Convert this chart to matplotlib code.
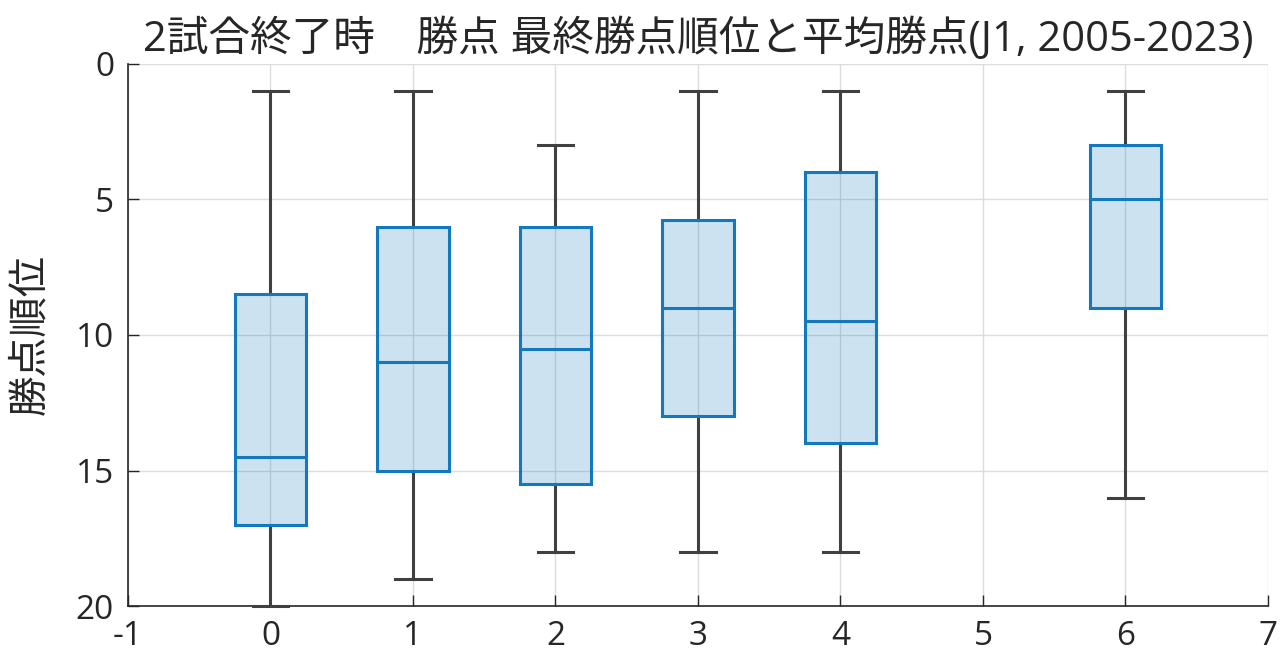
import numpy as np
import matplotlib.pyplot as plt

plt.rcParams['font.family'] = ['Open Sans', 'Noto Sans CJK JP', 'DejaVu Sans']

# 2試合終了時の勝点ごとの最終順位
points = [0, 1, 2, 3, 4, 6]
whis_lo = [1, 1, 3, 1, 1, 1]
q1 = [8.5, 6, 6, 5.75, 4, 3]
median = [14.5, 11, 10.5, 9, 9.5, 5]
q3 = [17, 15, 15.5, 13, 14, 9]
whis_hi = [20, 19, 18, 18, 18, 16]

xticks = [-1, 0, 1, 2, 3, 4, 5, 6, 7]
yticks = [0, 5, 10, 15, 20]

box_color = '#1478be'
whisker_color = '#404040'

stats = []
for i in range(len(points)):
    stats.append({'med': median[i], 'q1': q1[i], 'q3': q3[i],
                  'whislo': whis_lo[i], 'whishi': whis_hi[i], 'fliers': []})

fig = plt.figure(figsize=(12.8, 6.7), dpi=100)
ax = fig.add_axes([0.1, 0.0955, 0.8906, 0.809])

bp = ax.bxp(stats, positions=points, widths=0.5, patch_artist=True,
            showfliers=False,
            boxprops=dict(facecolor=(0.0, 0.447, 0.741, 0.2), edgecolor=box_color, linewidth=2.2),
            medianprops=dict(color=box_color, linewidth=2.2),
            whiskerprops=dict(color=whisker_color, linewidth=2.2),
            capprops=dict(color=whisker_color, linewidth=2.2),
            capwidths=0.25)
for b in bp['boxes']:
    b.set_zorder(3)
for m in bp['medians']:
    m.set_zorder(4)
for c in bp['caps']:
    c.set_clip_on(False)
    c.set_zorder(5)

ax.set_xlim(-1, 7)
ax.set_ylim(20, 0)
ax.set_xticks(xticks)
ax.set_xticklabels([str(t) for t in xticks])
ax.set_yticks(yticks)
ax.grid(True, color='#dcdcdc', linewidth=1)
ax.set_axisbelow(True)

for s in ['top', 'right']:
    ax.spines[s].set_visible(False)
for s in ['left', 'bottom']:
    ax.spines[s].set_color('#262626')
    ax.spines[s].set_linewidth(1.2)

ax.tick_params(direction='in', length=8, width=1, colors='#262626',
               labelsize=24, labelcolor='#262626', pad=10)
ax.set_ylabel('勝点順位', fontsize=29, color='#262626', labelpad=18)
ax.set_title('2試合終了時\u3000勝点 最終勝点順位と平均勝点(J1, 2005-2023)',
             fontsize=30, color='#262626', pad=9)

fig.savefig('out.png', dpi=100)
